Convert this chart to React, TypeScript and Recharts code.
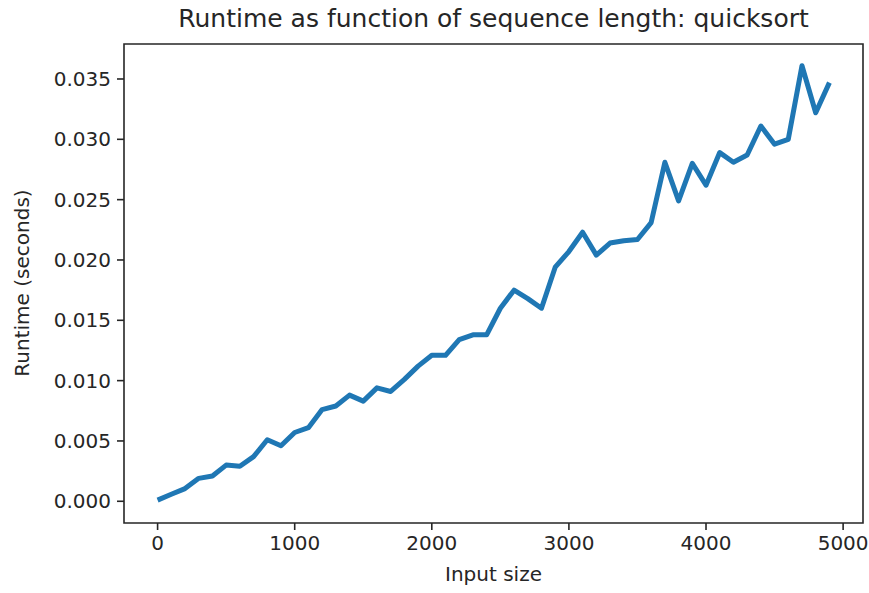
import { LineChart, Line, XAxis, YAxis, ReferenceArea } from "recharts";

const INPUT_SIZES = [
  0, 100, 200, 300, 400, 500, 600, 700, 800, 900,
  1000, 1100, 1200, 1300, 1400, 1500, 1600, 1700, 1800, 1900,
  2000, 2100, 2200, 2300, 2400, 2500, 2600, 2700, 2800, 2900,
  3000, 3100, 3200, 3300, 3400, 3500, 3600, 3700, 3800, 3900,
  4000, 4100, 4200, 4300, 4400, 4500, 4600, 4700, 4800, 4900,
];

const RUNTIMES = [
  0.0001, 0.00058, 0.00105, 0.0019, 0.0021, 0.003, 0.0029, 0.0037, 0.0051, 0.0046,
  0.0057, 0.0061, 0.0076, 0.0079, 0.0088, 0.0083, 0.0094, 0.0091, 0.0101, 0.0112,
  0.0121, 0.0121, 0.0134, 0.0138, 0.0138, 0.016, 0.0175, 0.0168, 0.016, 0.0194,
  0.0207, 0.0223, 0.0204, 0.0214, 0.0216, 0.0217, 0.0231, 0.0281, 0.0249, 0.028,
  0.0262, 0.0289, 0.0281, 0.0287, 0.0311, 0.0296, 0.03, 0.0361, 0.0322, 0.0347,
];

const X_TICKS = [0, 1000, 2000, 3000, 4000, 5000];
const Y_TICKS = [0, 0.005, 0.01, 0.015, 0.02, 0.025, 0.03, 0.035];

const X_DOMAIN: [number, number] = [-245, 5145];
const Y_DOMAIN: [number, number] = [-0.0018, 0.0379];

const FONT = "'DejaVu Sans', sans-serif";
const INK = "#262626";

const data = INPUT_SIZES.map((n, i) => ({ n, t: RUNTIMES[i] }));

export default function App() {
  const tick = { fill: INK, fontSize: 20, fontFamily: FONT };
  return (
    <div style={{ position: "absolute", left: 0, top: 0, width: 869, height: 593, background: "#fff", fontFamily: FONT, color: INK }}>
      <div style={{ position: "absolute", left: 124, width: 739, top: 4, textAlign: "center", fontSize: 25, whiteSpace: "nowrap" }}>
        Runtime as function of sequence length: quicksort
      </div>
      <div style={{ position: "absolute", left: 124, width: 739, top: 562, textAlign: "center", fontSize: 20 }}>
        Input size
      </div>
      <div
        style={{
          position: "absolute", left: 22, top: 283, fontSize: 20, whiteSpace: "nowrap",
          transform: "translate(-50%, -50%) rotate(-90deg)",
        }}
      >
        Runtime (seconds)
      </div>
      <LineChart width={869} height={593} data={data} margin={{ top: 44, right: 6, bottom: 0, left: 0 }}>
        <XAxis
          dataKey="n" type="number" domain={X_DOMAIN} ticks={X_TICKS} allowDataOverflow
          height={70} axisLine={false} tickSize={7} tickMargin={6}
          tickLine={{ stroke: INK, strokeWidth: 1.6 }} tick={tick}
        />
        <YAxis
          type="number" domain={Y_DOMAIN} ticks={Y_TICKS} allowDataOverflow
          width={124} axisLine={false} tickSize={7} tickMargin={6}
          tickLine={{ stroke: INK, strokeWidth: 1.6 }} tick={tick}
          tickFormatter={(v: number) => v.toFixed(3)}
        />
        <ReferenceArea
          x1={X_DOMAIN[0]} x2={X_DOMAIN[1]} y1={Y_DOMAIN[0]} y2={Y_DOMAIN[1]}
          fill="none" stroke={INK} strokeWidth={1.6} fillOpacity={0}
        />
        <Line
          dataKey="t" stroke="#1f77b4" strokeWidth={5} dot={false}
          strokeLinejoin="round" strokeLinecap="butt" isAnimationActive={false}
        />
      </LineChart>
    </div>
  );
}
